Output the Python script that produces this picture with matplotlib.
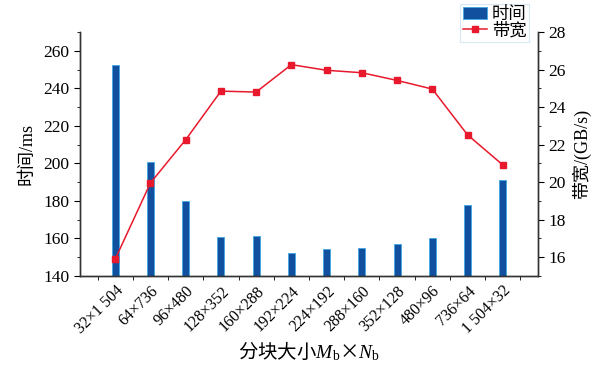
import matplotlib
matplotlib.use("Agg")
import matplotlib.pyplot as plt
import numpy as np
from matplotlib.ticker import MultipleLocator, FixedLocator

plt.rcParams['font.family'] = ['Liberation Serif', 'Noto Sans CJK SC']
plt.rcParams['mathtext.fontset'] = 'custom'
plt.rcParams['mathtext.rm'] = 'Liberation Serif'
plt.rcParams['mathtext.it'] = 'Liberation Serif:italic'

categories = ["32×1 504", "64×736", "96×480", "128×352", "160×288", "192×224",
              "224×192", "288×160", "352×128", "480×96", "736×64", "1 504×32"]
time_ms = [252.2, 200.6, 179.8, 161.0, 161.5, 152.4, 154.3, 154.9, 157.2, 160.4, 177.7, 191.4]
bandwidth = [15.9, 19.96, 22.26, 24.85, 24.8, 26.26, 25.96, 25.83, 25.42, 24.96, 22.52, 20.92]

fig = plt.figure(figsize=(6.02, 3.68), dpi=100)
ax = fig.add_axes([80/602, 92/368, 458/602, 244/368])
ax2 = ax.twinx()

x = np.arange(len(categories))
bars = ax.bar(x, time_ms, width=0.2, color='#11509e', edgecolor='#4aa8e0',
              linewidth=0.7, label='时间', zorder=2)
line, = ax2.plot(x, bandwidth, color='#e8192c', marker='s', markersize=4,
                 linewidth=1.1, label='带宽', zorder=3)

ax.set_xlim(-1, 12)
ax.set_ylim(140, 270)
ax2.set_ylim(15, 28)

ax.yaxis.set_major_locator(MultipleLocator(20))
ax.yaxis.set_minor_locator(MultipleLocator(10))
ax2.yaxis.set_major_locator(MultipleLocator(2))
ax2.yaxis.set_minor_locator(MultipleLocator(1))

ax.set_xticks(x)
ax.set_xticklabels(categories, rotation=45, ha='right', va='top',
                   rotation_mode='anchor', fontsize=11.5)
ax.xaxis.set_minor_locator(FixedLocator(np.arange(-0.5, 12, 1.0)))
ax.tick_params(axis='x', which='major', length=0, pad=5)
ax.tick_params(axis='x', which='minor', length=3, direction='out')

for a in (ax, ax2):
    a.spines['top'].set_visible(False)
    for s in a.spines.values():
        s.set_color('#333333')
        s.set_linewidth(1.0)
ax.tick_params(axis='y', which='major', length=4, labelsize=12.5, direction='out')
ax.tick_params(axis='y', which='minor', length=2, direction='out')
ax2.tick_params(axis='y', which='major', length=4, labelsize=12.5, direction='out')
ax2.tick_params(axis='y', which='minor', length=2, direction='out')

ax.set_ylabel('时间/ms', fontsize=13, labelpad=6)
ax2.set_ylabel('带宽/(GB/s)', fontsize=13, labelpad=4)
ax.set_xlabel('分块大小$M_\\mathrm{b}$×$N_\\mathrm{b}$', fontsize=14,
              fontfamily='Noto Sans CJK SC', labelpad=2)

leg = fig.legend(handles=[bars, line], labels=['时间', '带宽'],
                 loc='upper right', bbox_to_anchor=(529/602, 1 - 4/368),
                 fontsize=12.5, frameon=True, fancybox=False, borderpad=0.15,
                 handlelength=1.4, handletextpad=0.25, labelspacing=0.0,
                 borderaxespad=0)
leg.get_frame().set_edgecolor('#cfe3ee')
leg.get_frame().set_linewidth(0.8)

fig.savefig('out.png', dpi=100)
